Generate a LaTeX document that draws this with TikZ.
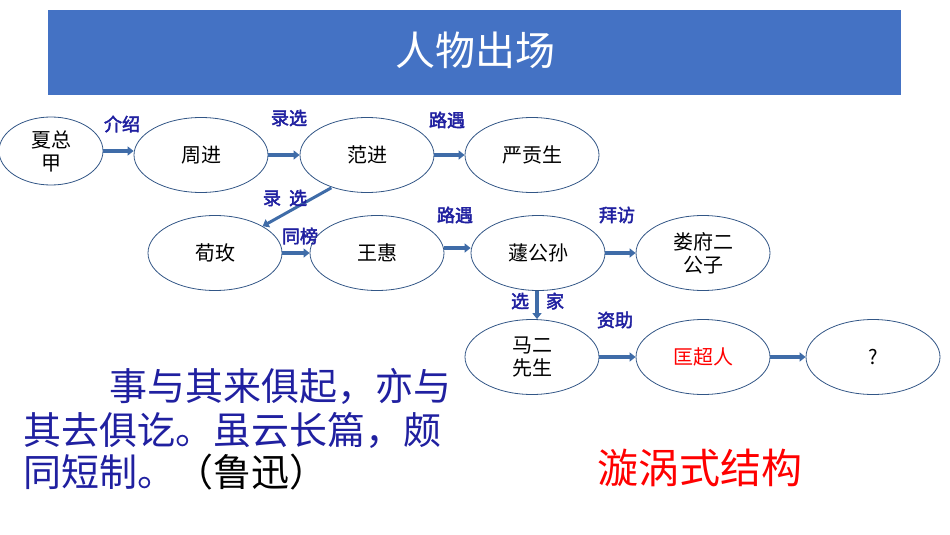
\documentclass[tikz,border=0pt]{standalone}
\usepackage{fontspec}
\setmainfont{Noto Sans CJK SC}
\newfontfamily\cjkb{Noto Sans CJK SC}[FakeBold=2.5]
\usetikzlibrary{arrows.meta,shapes.geometric}
\definecolor{barblue}{HTML}{4472C4}
\definecolor{arr}{HTML}{3F6CA8}
\definecolor{lab}{HTML}{2020A0}
\tikzset{
 ell/.style={draw=arr!80!black,line width=0.8pt,ellipse,minimum width=134pt,minimum height=75pt,inner sep=0pt,font=\fontsize{20}{23}\selectfont,align=center},
 con/.style={draw=arr,line width=3.5pt,-{Triangle[length=6pt,width=9pt]}},
 lbl/.style={text=lab,font=\fontsize{18}{20}\selectfont\cjkb}
}
\begin{document}
\begin{tikzpicture}[x=1pt,y=-1pt]
\useasboundingbox (0,0) rectangle (950,535);
\fill[barblue] (48,10) rectangle (901,95);
\node[text=white,font=\fontsize{40}{44}\selectfont] (title) at (475,50) {人物出场};
\node[ell,minimum width=104pt,minimum height=68pt] (xzj) at (51,151) {夏总\\甲};
\node[ell] (zj) at (201,155) {周进};
\node[ell] (fj) at (367,155) {范进};
\node[ell] (ygs) at (532,155) {严贡生};
\node[ell] (xm) at (215,253) {荀玫};
\node[ell] (wh) at (377,253) {王惠};
\node[ell] (qgs) at (538,253) {蘧公孙};
\node[ell] (lf) at (703,253) {娄府二\\公子};
\node[ell] (me) at (532,357) {马二\\先生};
\node[ell,text=red] (kcr) at (703,357) {匡超人};
\node[ell] (q) at (873,357) {?};
\draw[con] (xzj.east |- 0,151) -- (zj.west |- 0,151);
\draw[con] (zj.east) -- (fj.west);
\draw[con] (fj.east) -- (ygs.west);
\draw[con,line width=3pt] (fj.south west) ++(12,6) coordinate (d0) -- (xm.north east);
\draw[con] (xm.east) -- (wh.west);
\draw[con] (wh.east |- 0,248) -- (qgs.west |- 0,248);
\draw[con] (qgs.east) -- (lf.west);
\draw[con] (qgs.south -| 537,0) -- (me.north -| 537,0);
\draw[con] (me.east) -- (kcr.west);
\draw[con] (kcr.east) -- (q.west);
\node[lbl] (l1) at (122,124) {介绍};
\node[lbl] (l2) at (289,118) {录选};
\node[lbl] (l3) at (447,120) {路遇};
\node[lbl] (l4) at (285,198) {录\ \ 选};
\node[lbl] (l5) at (300,236) {同榜};
\node[lbl] (l6) at (455,215) {路遇};
\node[lbl] (l7) at (617,215) {拜访};
\node[lbl] (l8) at (520,301) {选};
\node[lbl] (l9) at (555,301) {家};
\node[lbl] (l10) at (615,320) {资助};
\begin{scope}[font=\fontsize{38}{42}\selectfont,text=lab]
\node[anchor=west] (t1) at (106,386) {事与其来俱起，亦与};
\node[anchor=west] (t2) at (20,430) {其去俱讫。虽云长篇，颇};
\node[anchor=west] (t3) at (20,472) {同短制。\textcolor{black}{（鲁迅）}};
\end{scope}
\node[anchor=west,text=red,font=\fontsize{41}{44}\selectfont] (sw) at (594,468) {漩涡式结构};
\end{tikzpicture}
\end{document}
